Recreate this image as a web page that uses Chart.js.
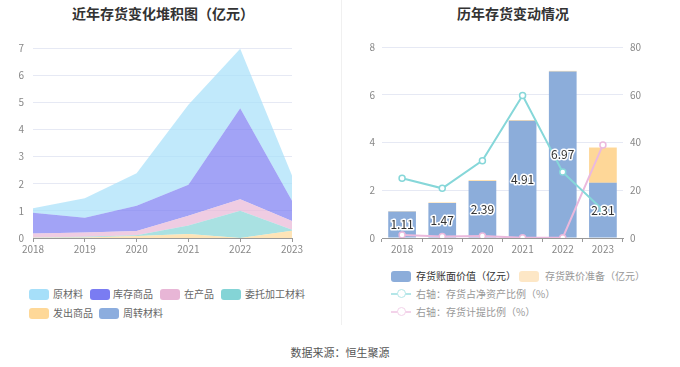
<!DOCTYPE html>
<html><head><meta charset="utf-8">
<script src="https://cdn.jsdelivr.net/npm/chart.js"></script>
<style>
body{margin:0;width:680px;height:367px;background:#fff;font-family:"Noto Sans CJK SC","Noto Sans",sans-serif;position:relative;overflow:hidden}
canvas{position:absolute;top:0}
.t{position:absolute;font-size:14px;font-weight:bold;color:#333;white-space:nowrap;top:3px}
.lg{position:absolute;font-size:10px;color:#666;white-space:nowrap;line-height:12px}
.bx{position:absolute;width:20px;height:11px;border-radius:3px}
.ln{position:absolute;width:20px;height:2px}
.cc{position:absolute;width:7px;height:7px;border-radius:50%;background:#fff}
#div{position:absolute;left:341px;top:0;width:1px;height:325px;background:#f0f0f0}
#src{position:absolute;left:0;width:680px;text-align:center;top:344px;font-size:11px;color:#555}
</style></head><body>
<div id="div"></div>
<div class="t" style="left:72px">近年存货变化堆积图（亿元）</div>
<div class="t" style="left:457px">历年存货变动情况</div>
<canvas id="c1" width="340" height="260" style="left:0"></canvas>
<canvas id="c2" width="340" height="260" style="left:340px"></canvas>
<div id="legends"></div>
<div id="src">数据来源：恒生聚源</div>
<script>
const years = ['2018','2019','2020','2021','2022','2023'];
// stacked area components (亿元)
const faChu = [0.01,0.02,0.07,0.15,0.00,0.27];      // 发出商品
const zhouZhuan = [0,0,0,0,0,0];                     // 周转材料
const weiTuo = [0.01,0.03,0.03,0.31,1.00,0.03];      // 委托加工材料
const zaiChan = [0.15,0.15,0.16,0.36,0.43,0.33];     // 在产品
const kuCun = [0.76,0.55,0.93,1.14,3.35,0.74];       // 库存商品
const yuanCai = [0.17,0.71,1.20,2.95,2.19,0.93];     // 原材料
// right chart
const bookValue = [1.11,1.47,2.39,4.91,6.97,2.31];   // 存货账面价值
const provision = [0.02,0.02,0.03,0.03,0.03,1.48];   // 存货跌价准备
const ratioNet = [25.0,20.8,32.4,59.7,27.6,11.7];    // 存货占净资产比例
const ratioProv = [1.3,0.6,0.8,0.1,0.1,39.0];        // 存货计提比例
const leftTicks = [0,1,2,3,4,5,6,7];

const C = {yuan:'#a6dff9',ku:'#7a7cf2',zai:'#e8b6d6',wei:'#84d4d6',fa:'#fed898',zhou:'#8cadde',
  book:'#8cadda',prov:'#fed798',lnA:'#86d7d9',lnB:'#ebb9dd'};
function rgba(h,a){const n=parseInt(h.slice(1),16);return `rgba(${n>>16},${(n>>8)&255},${n&255},${a})`;}
const F = {family:'"Noto Sans CJK SC","Noto Sans",sans-serif',size:10};
const gridC = '#e6e9f4';

function area(label,data,col,fill){return {label,data,backgroundColor:rgba(col,0.7),borderWidth:0,pointRadius:0,fill,tension:0};}

new Chart(document.getElementById('c1'),{
  type:'line',
  data:{labels:years,datasets:[
    area('发出商品',faChu,C.fa,'origin'),
    area('周转材料',zhouZhuan,C.zhou,'-1'),
    area('委托加工材料',weiTuo,C.wei,'-1'),
    area('在产品',zaiChan,C.zai,'-1'),
    area('库存商品',kuCun,C.ku,'-1'),
    area('原材料',yuanCai,C.yuan,'-1')]},
  options:{responsive:false,animation:false,devicePixelRatio:1,
    layout:{padding:{left:0,right:48,top:48,bottom:0}},
    plugins:{legend:{display:false},tooltip:{enabled:false}},
    scales:{
      x:{offset:false,grid:{drawOnChartArea:false,tickLength:4,color:'#999'},border:{color:'#999'},
        ticks:{color:'#888',font:F,padding:1,maxRotation:0},afterFit:s=>{s.height=22;}},
      y:{stacked:true,min:0,max:7,afterBuildTicks:s=>{s.ticks=leftTicks.map(v=>({value:v}));},
        grid:{color:gridC,drawTicks:false},border:{display:false},
        ticks:{color:'#888',font:F,padding:9},afterFit:s=>{s.width=33;}}
    }}
});

const labelPlugin={id:'lbl',afterDatasetsDraw(chart){
  const ctx=chart.ctx;const meta=chart.getDatasetMeta(0);
  ctx.save();ctx.font='12px "Noto Sans CJK SC","Noto Sans",sans-serif';ctx.textAlign='center';ctx.textBaseline='middle';
  meta.data.forEach((b,i)=>{const y=(b.y+b.base)/2;const t=bookValue[i].toFixed(2);
    ctx.lineWidth=3;ctx.strokeStyle='#fff';ctx.lineJoin='round';ctx.strokeText(t,b.x,y);ctx.fillStyle='#333';ctx.fillText(t,b.x,y);});
  ctx.restore();}};

function lineDs(label,data,col){return {type:'line',label,data,yAxisID:'y1',borderColor:col,borderWidth:2,
  pointRadius:3,pointBorderWidth:1.5,pointBackgroundColor:'#fff',pointBorderColor:col,tension:0,fill:false};}

new Chart(document.getElementById('c2'),{
  type:'bar',
  data:{labels:years,datasets:[
    {label:'存货账面价值（亿元）',data:bookValue,backgroundColor:C.book,stack:'s',yAxisID:'y',barPercentage:0.69,categoryPercentage:1,order:2},
    {label:'存货跌价准备（亿元）',data:provision,backgroundColor:C.prov,stack:'s',yAxisID:'y',barPercentage:0.69,categoryPercentage:1,order:2},
    Object.assign(lineDs('右轴：存货计提比例（%）',ratioProv,C.lnB),{order:1}),
    Object.assign(lineDs('右轴：存货占净资产比例（%）',ratioNet,C.lnA),{order:0})]},
  options:{responsive:false,animation:false,devicePixelRatio:1,
    layout:{padding:{left:0,right:0,top:47,bottom:0}},
    plugins:{legend:{display:false},tooltip:{enabled:false}},
    scales:{
      x:{stacked:true,grid:{drawOnChartArea:false,tickLength:4,color:'#999'},border:{color:'#999'},
        ticks:{color:'#888',font:F,padding:1,maxRotation:0},afterFit:s=>{s.height=22;}},
      y:{stacked:true,min:0,max:8,ticks:{stepSize:2,color:'#888',font:F,padding:7},
        grid:{color:gridC,drawTicks:false},border:{display:false},afterFit:s=>{s.width=42;}},
      y1:{position:'right',min:0,max:80,ticks:{stepSize:20,color:'#888',font:F,padding:7},
        grid:{drawOnChartArea:false,drawTicks:false},border:{display:false},afterFit:s=>{s.width=57;}}
    }},
  plugins:[labelPlugin]
});

// legends
const L=document.getElementById('legends');
function box(x,y,col,txt,tx,tc){L.insertAdjacentHTML('beforeend',
  `<div class="bx" style="left:${x}px;top:${y-5.5}px;background:${col}"></div><div class="lg" style="left:${tx}px;top:${y-6.5}px;color:${tc||'#666'}">${txt}</div>`);}
function lineItem(x,y,col,txt,tx){L.insertAdjacentHTML('beforeend',
  `<div class="ln" style="left:${x}px;top:${y-1}px;background:${col}"></div><div class="cc" style="left:${x+5.5}px;top:${y-5.5}px;border:1.5px solid ${col}"></div><div class="lg" style="left:${tx}px;top:${y-6.5}px;color:#999">${txt}</div>`);}
box(29,294,C.yuan,'原材料',53);
box(90,294,C.ku,'库存商品',113);
box(160,294,C.zai,'在产品',184);
box(221,294,C.wei,'委托加工材料',245);
box(29,313,C.fa,'发出商品',53);
box(99,313,C.zhou,'周转材料',123);
box(391,276,C.book,'存货账面价值（亿元）',416,'#333');
box(519,276,'#fde7c6','存货跌价准备（亿元）',545,'#999');
lineItem(391,294,'#b4e6e8','右轴：存货占净资产比例（%）',416);
lineItem(391,312,'#f3d3ea','右轴：存货计提比例（%）',416);
</script>
</body></html>
